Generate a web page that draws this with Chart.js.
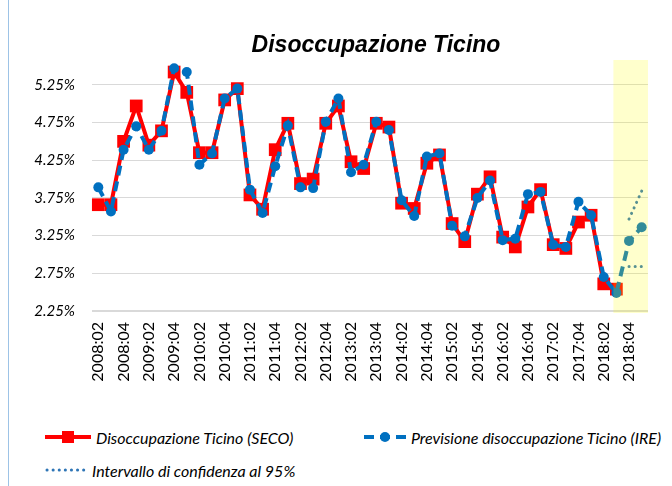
<!DOCTYPE html>
<html>
<head>
<meta charset="utf-8">
<script src="https://cdn.jsdelivr.net/npm/chart.js@4.4.1/dist/chart.umd.min.js"></script>
<style>
body { margin: 0; background: #fff; }
#wrap { position: relative; width: 672px; height: 486px; overflow: hidden; }
#frame { position: absolute; left: 8px; top: 0; width: 1px; height: 486px; background: #9dc3e6; }
#box { position: absolute; left: 0; top: 0; width: 672px; height: 400px; }
#title { position: absolute; left: 226px; width: 300px; top: 31px; text-align: center; font: italic bold 23px "Liberation Sans", Arial, sans-serif; color: #000; }
.leg { position: absolute; height: 20px; font: italic 16px Lato, sans-serif; color: #000; display: flex; align-items: center; white-space: nowrap; }
.leg svg { margin-right: 5px; }
</style>
</head>
<body>
<div id="wrap">
  <div id="frame"></div>
  <div id="box"><canvas id="chart"></canvas></div>
  <div id="title">Disoccupazione Ticino</div>
  <div class="leg" style="left:45px; top:427px;">
    <svg width="46" height="16"><line x1="0" y1="8" x2="46" y2="8" stroke="#ff0000" stroke-width="4"/><rect x="17" y="2" width="12" height="12" fill="#ff0000"/></svg>Disoccupazione Ticino (SECO)
  </div>
  <div class="leg" style="left:364px; top:427px;">
    <svg width="42" height="16"><line x1="0" y1="8" x2="42" y2="8" stroke="#0070c0" stroke-width="4" stroke-dasharray="10,6"/><circle cx="21" cy="8" r="5" fill="#0070c0"/></svg>Previsione disoccupazione Ticino (IRE)
  </div>
  <div class="leg" style="left:45px; top:460px;">
    <svg width="42" height="16"><line x1="2" y1="8" x2="42" y2="8" stroke="#2e75b6" stroke-width="3" stroke-linecap="round" stroke-dasharray="0.1,6"/></svg>Intervallo di confidenza al 95%
  </div>
</div>
<script>
const quarters = [
  '2008:02','2008:03','2008:04','2009:01','2009:02','2009:03','2009:04','2010:01',
  '2010:02','2010:03','2010:04','2011:01','2011:02','2011:03','2011:04','2012:01',
  '2012:02','2012:03','2012:04','2013:01','2013:02','2013:03','2013:04','2014:01',
  '2014:02','2014:03','2014:04','2015:01','2015:02','2015:03','2015:04','2016:01',
  '2016:02','2016:03','2016:04','2017:01','2017:02','2017:03','2017:04','2018:01',
  '2018:02','2018:03','2018:04','2019:01'
];
const seco = [
  3.66, 3.66, 4.50, 4.97, 4.45, 4.64, 5.42, 5.15, 4.35, 4.35, 5.05, 5.20,
  3.79, 3.60, 4.39, 4.74, 3.94, 4.00, 4.74, 4.97, 4.23, 4.14, 4.74, 4.69,
  3.68, 3.61, 4.21, 4.32, 3.41, 3.17, 3.80, 4.03, 3.23, 3.10, 3.63, 3.86,
  3.13, 3.08, 3.43, 3.52, 2.61, 2.54, null, null
];
const ire = [
  3.89, 3.57, 4.39, 4.70, 4.39, 4.64, 5.47, 5.42, 4.19, 4.34, 5.07, 5.20,
  3.86, 3.55, 4.17, 4.71, 3.89, 3.88, 4.76, 5.07, 4.09, 4.19, 4.76, 4.65,
  3.72, 3.51, 4.30, 4.34, 3.38, 3.24, 3.75, 3.98, 3.19, 3.21, 3.80, 3.83,
  3.13, 3.10, 3.70, 3.52, 2.70, 2.49, 3.18, 3.36
];
const ciUpper = [...Array(42).fill(null), 3.47, 3.84];
const ciLower = [...Array(42).fill(null), 2.84, 2.84];
const yTicks = [2.25, 2.75, 3.25, 3.75, 4.25, 4.75, 5.25];
const forecastStart = 41;

// yellow band over the forecast quarters, drawn on top of the lines
const forecastBand = {
  id: 'forecastBand',
  afterDatasetsDraw(chart) {
    const { ctx, chartArea, scales: { x } } = chart;
    const left = x.getPixelForValue(forecastStart) - 3;
    ctx.save();
    ctx.fillStyle = 'rgba(255, 255, 0, 0.2)';
    ctx.fillRect(left, chartArea.top - 6, chartArea.right - left, chartArea.bottom - chartArea.top + 8);
    ctx.restore();
  }
};

new Chart(document.getElementById('chart'), {
  type: 'line',
  data: {
    labels: quarters,
    datasets: [
      {
        label: 'Disoccupazione Ticino (SECO)',
        data: seco,
        borderColor: '#ff0000',
        backgroundColor: '#ff0000',
        borderWidth: 4,
        pointStyle: 'rect',
        pointRadius: 9,
        pointBorderWidth: 0,
        clip: false,
        order: 2,
      },
      {
        label: 'Previsione disoccupazione Ticino (IRE)',
        data: ire,
        borderColor: '#0070c0',
        backgroundColor: '#0070c0',
        borderWidth: 4,
        borderDash: [10, 6],
        pointStyle: 'circle',
        pointRadius: 5,
        pointBorderWidth: 0,
        clip: false,
        order: 1,
      },
      {
        label: 'Intervallo di confidenza al 95%',
        data: ciUpper,
        borderColor: '#2e75b6',
        borderWidth: 3,
        borderDash: [0.1, 6],
        borderCapStyle: 'round',
        pointRadius: 0,
        order: 0,
      },
      {
        label: 'Intervallo di confidenza al 95% (inf)',
        data: ciLower,
        borderColor: '#2e75b6',
        borderWidth: 3,
        borderDash: [0.1, 6],
        borderCapStyle: 'round',
        pointRadius: 0,
        order: 0,
      },
    ],
  },
  options: {
    responsive: true,
    maintainAspectRatio: false,
    animation: false,
    devicePixelRatio: 1,
    layout: { padding: { top: 66, right: 12 } },
    plugins: {
      legend: { display: false },
      tooltip: { enabled: false },
      title: { display: false },
    },
    scales: {
      x: {
        offset: true,
        afterFit: (s) => { s.height = 89; },
        grid: { display: false, drawTicks: false },
        border: { display: false },
        ticks: {
          autoSkip: false,
          minRotation: 90,
          maxRotation: 90,
          padding: 11,
          color: '#000',
          font: { family: 'Lato', size: 16 },
          callback: (v, i) => (i % 2 === 0 ? quarters[i] : ''),
        },
      },
      y: {
        min: 2.25,
        max: 5.5,
        afterBuildTicks: (s) => { s.ticks = yTicks.map((v) => ({ value: v })); },
        afterFit: (s) => { s.width = 92; },
        border: { display: false },
        grid: {
          color: '#d9d9d9',
          lineWidth: (c) => (c.tick && c.tick.value === 2.25 ? 2 : 1),
          drawTicks: false,
        },
        ticks: {
          padding: 17,
          color: '#000',
          font: { family: 'Lato', size: 15, style: 'italic' },
          callback: (v) => v.toFixed(2) + '%',
        },
      },
    },
  },
  plugins: [forecastBand],
});
</script>
</body>
</html>
